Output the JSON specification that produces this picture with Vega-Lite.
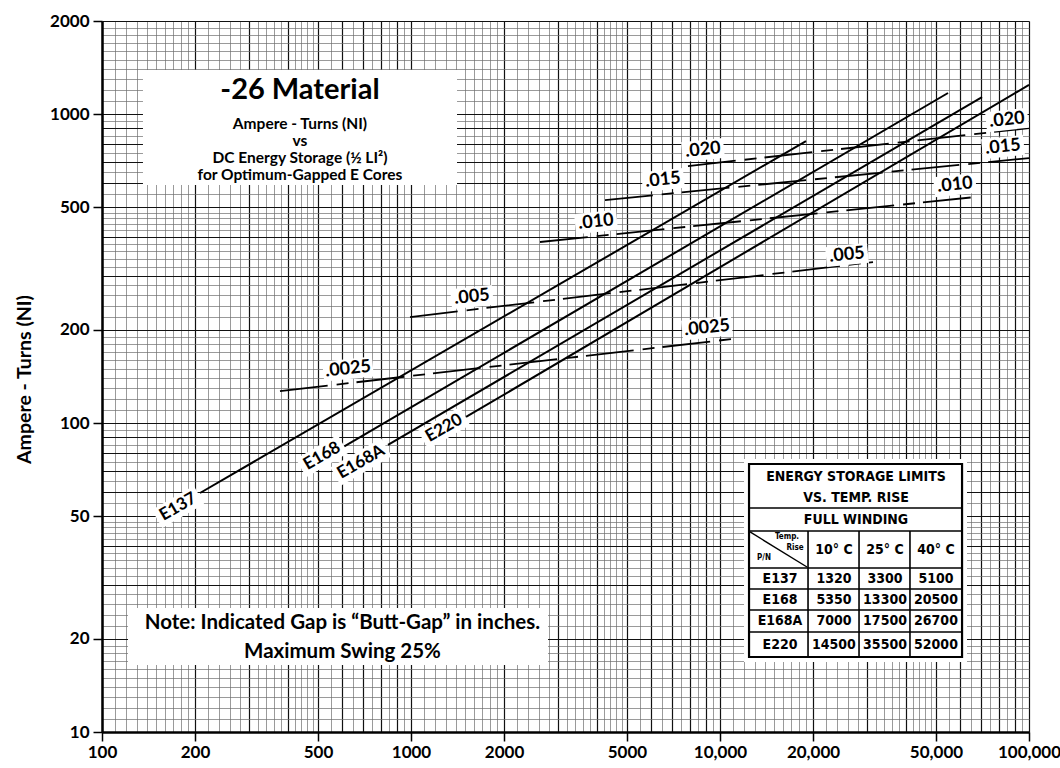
{
  "$schema": "https://vega.github.io/schema/vega-lite/v6.json",
  "width": 927,
  "height": 711,
  "autosize": {"type": "none"},
  "padding": {"left": 102, "top": 21, "right": 31, "bottom": 36},
  "background": "white",
  "config": {"view": {"stroke": null}, "font": "Lato"},
  "datasets": {
    "boxes": [
      {"name": "title", "x1": 135.7, "x2": 1409, "y1": 589, "y2": 1388},
      {"name": "note", "x1": 121.4, "x2": 2776, "y1": 16.48, "y2": 25.19},
      {"name": "table", "x1": 11960, "x2": 63000, "y1": 16.85, "y2": 76.45}
    ],
    "cores": [
      {"core": "E137", "e": 207.6, "ni": 59.36},
      {"core": "E137", "e": 18980, "ni": 817.5},
      {"core": "E168", "e": 602.6, "ni": 83.6},
      {"core": "E168", "e": 54690, "ni": 1169.5},
      {"core": "E168A", "e": 842.5, "ni": 84.9},
      {"core": "E168A", "e": 70460, "ni": 1135},
      {"core": "E220", "e": 1507, "ni": 104.6},
      {"core": "E220", "e": 100000, "ni": 1241.6}
    ],
    "gaps": [
      {"gap": ".0025", "e": 376.7, "ni": 126.9},
      {"gap": ".0025", "e": 10935, "ni": 187.0},
      {"gap": ".005", "e": 992.6, "ni": 220.3},
      {"gap": ".005", "e": 31270, "ni": 331.9},
      {"gap": ".010", "e": 2615, "ni": 385.3},
      {"gap": ".010", "e": 66870, "ni": 538.6},
      {"gap": ".015", "e": 4245, "ni": 526.8},
      {"gap": ".015", "e": 100000, "ni": 720.3},
      {"gap": ".020", "e": 7877, "ni": 678.6},
      {"gap": ".020", "e": 100000, "ni": 900.8}
    ],
    "gapLabels": [
      {"label": ".020", "e": 8810, "ni": 764.6},
      {"label": ".015", "e": 6539, "ni": 611.5},
      {"label": ".010", "e": 3970, "ni": 447.2},
      {"label": ".005", "e": 1575, "ni": 255.7},
      {"label": ".0025", "e": 625.4, "ni": 149.5},
      {"label": ".020", "e": 84880, "ni": 956.3},
      {"label": ".015", "e": 82390, "ni": 782},
      {"label": ".010", "e": 57610, "ni": 589.1},
      {"label": ".005", "e": 25760, "ni": 349.8},
      {"label": ".0025", "e": 9077, "ni": 203}
    ],
    "coreLabels": [
      {"label": "E137", "e": 176.2, "ni": 53.5},
      {"label": "E168", "e": 515.2, "ni": 78.2},
      {"label": "E168A", "e": 689, "ni": 74.8},
      {"label": "E220", "e": 1279, "ni": 96.3}
    ],
    "titleMain": [
      {"text": "-26 Material", "e": 437.2, "ni": 1196}
    ],
    "titleSub": [
      {"text": "Ampere - Turns (NI)", "e": 437.2, "ni": 928},
      {"text": "vs", "e": 437.2, "ni": 817.6},
      {"text": "DC Energy Storage (½ LI²)", "e": 437.2, "ni": 720.5},
      {"text": "for Optimum-Gapped E Cores", "e": 437.2, "ni": 634.8}
    ],
    "note": [
      {"text": "Note: Indicated Gap is “Butt-Gap” in inches.", "e": 600, "ni": 22.53},
      {"text": "Maximum Swing 25%", "e": 600, "ni": 18.15}
    ],
    "tableFrame": [
      {"x1": 12416, "x2": 60720, "y1": 17.49, "y2": 73.68}
    ],
    "tableH": [
      {"y": 53.08, "x1": 12416, "x2": 60720},
      {"y": 44.73, "x1": 12416, "x2": 60720},
      {"y": 33.94, "x1": 12416, "x2": 60720},
      {"y": 29.02, "x1": 12416, "x2": 60720},
      {"y": 24.82, "x1": 12416, "x2": 60720},
      {"y": 21.07, "x1": 12416, "x2": 60720}
    ],
    "tableV": [
      {"x": 19270, "y1": 17.49, "y2": 44.73},
      {"x": 28180, "y1": 17.49, "y2": 44.73},
      {"x": 41190, "y1": 17.49, "y2": 44.73}
    ],
    "tableDiag": [
      {"x1": 12510, "y1": 44.4, "x2": 19120, "y2": 34.2}
    ],
    "tableText": [
      {"text": "ENERGY STORAGE LIMITS", "e": 27550, "ni": 66.88},
      {"text": "VS. TEMP. RISE", "e": 27550, "ni": 57.2},
      {"text": "FULL WINDING", "e": 27550, "ni": 48.54},
      {"text": "10° C", "e": 23380, "ni": 38.81},
      {"text": "25° C", "e": 34200, "ni": 38.81},
      {"text": "40° C", "e": 50000, "ni": 38.81},
      {"text": "E137", "e": 15640, "ni": 31.27},
      {"text": "1320", "e": 23380, "ni": 31.27},
      {"text": "3300", "e": 34200, "ni": 31.27},
      {"text": "5100", "e": 50000, "ni": 31.27},
      {"text": "E168", "e": 15640, "ni": 26.74},
      {"text": "5350", "e": 23380, "ni": 26.74},
      {"text": "13300", "e": 34200, "ni": 26.74},
      {"text": "20500", "e": 50000, "ni": 26.74},
      {"text": "E168A", "e": 15640, "ni": 22.87},
      {"text": "7000", "e": 23380, "ni": 22.87},
      {"text": "17500", "e": 34200, "ni": 22.87},
      {"text": "26700", "e": 50000, "ni": 22.87},
      {"text": "E220", "e": 15640, "ni": 19.12},
      {"text": "14500", "e": 23380, "ni": 19.12},
      {"text": "35500", "e": 34200, "ni": 19.12},
      {"text": "52000", "e": 50000, "ni": 19.12}
    ],
    "tableSmall": [
      {"text": "Temp.", "e": 16470, "ni": 42.77},
      {"text": "Rise", "e": 17490, "ni": 39.39},
      {"text": "P/N", "e": 13880, "ni": 36.56}
    ]
  },
  "layer": [
    {
      "data": {"name": "boxes"},
      "mark": {"type": "rect", "color": "white"},
      "encoding": {
        "x": {"field": "x1", "type": "quantitative", "scale": {"type": "log", "domain": [100, 100000], "nice": false},
          "axis": {"orient": "bottom", "values": [110,120,130,140,150,160,170,180,190,220,240,260,280,320,340,360,380,420,440,460,480,550,650,750,850,950,1100,1200,1300,1400,1500,1600,1700,1800,1900,2200,2400,2600,2800,3200,3400,3600,3800,4200,4400,4600,4800,5500,6500,7500,8500,9500,11000,12000,13000,14000,15000,16000,17000,18000,19000,22000,24000,26000,28000,32000,34000,36000,38000,42000,44000,46000,48000,55000,65000,75000,85000,95000],
            "grid": true, "gridColor": "#6e6e6e", "gridWidth": 0.7, "labels": false, "ticks": false, "domain": false, "title": null}},
        "x2": {"field": "x2"},
        "y": {"field": "y1", "type": "quantitative", "scale": {"type": "log", "domain": [10, 2000], "nice": false},
          "axis": {"orient": "left", "values": [11,12,13,14,15,16,17,18,19,22,24,26,28,32,34,36,38,42,44,46,48,55,65,75,85,95,110,120,130,140,150,160,170,180,190,220,240,260,280,320,340,360,380,420,440,460,480,550,650,750,850,950,1100,1200,1300,1400,1500,1600,1700,1800,1900],
            "grid": true, "gridColor": "#6e6e6e", "gridWidth": 0.7, "labels": false, "ticks": false, "domain": false, "title": null}},
        "y2": {"field": "y2"}
      }
    },
    {
      "data": {"name": "cores"},
      "mark": {"type": "line", "color": "black", "strokeWidth": 2},
      "encoding": {
        "x": {"field": "e", "type": "quantitative", "scale": {"type": "log", "domain": [100, 100000], "nice": false},
          "axis": {"orient": "bottom", "values": [100,200,300,400,500,600,700,800,900,1000,2000,3000,4000,5000,6000,7000,8000,9000,10000,20000,30000,40000,50000,60000,70000,80000,90000,100000],
            "grid": true, "gridColor": "#111111", "gridWidth": 1.2, "labels": false, "ticks": false, "domain": false, "title": null}},
        "y": {"field": "ni", "type": "quantitative", "scale": {"type": "log", "domain": [10, 2000], "nice": false},
          "axis": {"orient": "left", "values": [10,20,30,40,50,60,70,80,90,100,200,300,400,500,600,700,800,900,1000,2000],
            "grid": true, "gridColor": "#111111", "gridWidth": 1.2, "labels": false, "ticks": false, "domain": false, "title": null}},
        "detail": {"field": "core"}
      }
    },
    {
      "data": {"name": "gaps"},
      "mark": {"type": "line", "color": "black", "strokeWidth": 1.8, "strokeDash": [48, 9, 12, 8]},
      "encoding": {
        "x": {"field": "e", "type": "quantitative", "scale": {"type": "log", "domain": [100, 100000], "nice": false},
          "axis": {"orient": "bottom", "values": [100,200,500,1000,2000,5000,10000,20000,50000,100000],
            "grid": false, "domain": true, "domainColor": "black", "domainWidth": 2.5,
            "ticks": true, "tickColor": "black", "tickWidth": 1.5, "tickSize": 9,
            "labelFont": "Lato", "labelFontSize": 17, "labelFontWeight": "bold", "labelColor": "black",
            "labelPadding": 3, "labelFlush": false, "labelOverlap": false,
            "labelExpr": "datum.value >= 10000 ? format(datum.value, ',') : format(datum.value, 'd')",
            "title": null}},
        "y": {"field": "ni", "type": "quantitative", "scale": {"type": "log", "domain": [10, 2000], "nice": false},
          "axis": {"orient": "left", "values": [10,20,50,100,200,500,1000,2000],
            "grid": false, "domain": true, "domainColor": "black", "domainWidth": 2.5,
            "ticks": true, "tickColor": "black", "tickWidth": 1.5, "tickSize": 9,
            "labelFont": "Lato", "labelFontSize": 17, "labelFontWeight": "bold", "labelColor": "black",
            "labelPadding": 4, "labelFlush": false, "labelOverlap": false,
            "labelExpr": "format(datum.value, 'd')",
            "title": "Ampere - Turns (NI)", "titleFont": "Lato", "titleFontSize": 19.5, "titleFontWeight": "bold",
            "titleColor": "black", "titleX": -78, "titleY": 358, "titleAngle": -90, "titleAlign": "center", "titleBaseline": "middle"}},
        "detail": {"field": "gap"}
      }
    },
    {
      "data": {"name": "gapLabels"},
      "transform": [{"filter": "length(datum.label) < 5"}],
      "mark": {"type": "point", "filled": true, "color": "white", "opacity": 1, "size": 400, "angle": -6,
        "shape": "M-2.1,-1L2.1,-1L2.1,1L-2.1,1Z"},
      "encoding": {
        "x": {"field": "e", "type": "quantitative", "scale": {"type": "log", "domain": [100, 100000], "nice": false}, "axis": null},
        "y": {"field": "ni", "type": "quantitative", "scale": {"type": "log", "domain": [10, 2000], "nice": false}, "axis": null}
      }
    },
    {
      "data": {"name": "gapLabels"},
      "transform": [{"filter": "length(datum.label) >= 5"}],
      "mark": {"type": "point", "filled": true, "color": "white", "opacity": 1, "size": 400, "angle": -6,
        "shape": "M-2.5,-1L2.5,-1L2.5,1L-2.5,1Z"},
      "encoding": {
        "x": {"field": "e", "type": "quantitative", "scale": {"type": "log", "domain": [100, 100000], "nice": false}, "axis": null},
        "y": {"field": "ni", "type": "quantitative", "scale": {"type": "log", "domain": [10, 2000], "nice": false}, "axis": null}
      }
    },
    {
      "data": {"name": "coreLabels"},
      "transform": [{"filter": "length(datum.label) < 5"}],
      "mark": {"type": "point", "filled": true, "color": "white", "opacity": 1, "size": 441, "angle": -30,
        "shape": "M-2.3,-1L2.3,-1L2.3,1L-2.3,1Z"},
      "encoding": {
        "x": {"field": "e", "type": "quantitative", "scale": {"type": "log", "domain": [100, 100000], "nice": false}, "axis": null},
        "y": {"field": "ni", "type": "quantitative", "scale": {"type": "log", "domain": [10, 2000], "nice": false}, "axis": null}
      }
    },
    {
      "data": {"name": "coreLabels"},
      "transform": [{"filter": "length(datum.label) >= 5"}],
      "mark": {"type": "point", "filled": true, "color": "white", "opacity": 1, "size": 441, "angle": -30,
        "shape": "M-2.8,-1L2.8,-1L2.8,1L-2.8,1Z"},
      "encoding": {
        "x": {"field": "e", "type": "quantitative", "scale": {"type": "log", "domain": [100, 100000], "nice": false}, "axis": null},
        "y": {"field": "ni", "type": "quantitative", "scale": {"type": "log", "domain": [10, 2000], "nice": false}, "axis": null}
      }
    },
    {
      "data": {"name": "gapLabels"},
      "mark": {"type": "text", "font": "Lato", "fontSize": 18, "fontWeight": "bold", "color": "black", "angle": -6, "align": "center", "baseline": "middle"},
      "encoding": {
        "x": {"field": "e", "type": "quantitative", "scale": {"type": "log", "domain": [100, 100000], "nice": false}, "axis": null},
        "y": {"field": "ni", "type": "quantitative", "scale": {"type": "log", "domain": [10, 2000], "nice": false}, "axis": null},
        "text": {"field": "label"}
      }
    },
    {
      "data": {"name": "coreLabels"},
      "mark": {"type": "text", "font": "Lato", "fontSize": 17, "fontWeight": "bold", "color": "black", "angle": -30, "align": "center", "baseline": "middle"},
      "encoding": {
        "x": {"field": "e", "type": "quantitative", "scale": {"type": "log", "domain": [100, 100000], "nice": false}, "axis": null},
        "y": {"field": "ni", "type": "quantitative", "scale": {"type": "log", "domain": [10, 2000], "nice": false}, "axis": null},
        "text": {"field": "label"}
      }
    },
    {
      "data": {"name": "titleMain"},
      "mark": {"type": "text", "font": "Lato", "fontSize": 29, "fontWeight": "bold", "color": "black", "align": "center", "baseline": "middle"},
      "encoding": {
        "x": {"field": "e", "type": "quantitative", "scale": {"type": "log", "domain": [100, 100000], "nice": false}, "axis": null},
        "y": {"field": "ni", "type": "quantitative", "scale": {"type": "log", "domain": [10, 2000], "nice": false}, "axis": null},
        "text": {"field": "text"}
      }
    },
    {
      "data": {"name": "titleSub"},
      "mark": {"type": "text", "font": "Lato", "fontSize": 15.5, "fontWeight": "bold", "color": "black", "align": "center", "baseline": "middle"},
      "encoding": {
        "x": {"field": "e", "type": "quantitative", "scale": {"type": "log", "domain": [100, 100000], "nice": false}, "axis": null},
        "y": {"field": "ni", "type": "quantitative", "scale": {"type": "log", "domain": [10, 2000], "nice": false}, "axis": null},
        "text": {"field": "text"}
      }
    },
    {
      "data": {"name": "note"},
      "mark": {"type": "text", "font": "Lato", "fontSize": 20.5, "fontWeight": "bold", "color": "black", "align": "center", "baseline": "middle"},
      "encoding": {
        "x": {"field": "e", "type": "quantitative", "scale": {"type": "log", "domain": [100, 100000], "nice": false}, "axis": null},
        "y": {"field": "ni", "type": "quantitative", "scale": {"type": "log", "domain": [10, 2000], "nice": false}, "axis": null},
        "text": {"field": "text"}
      }
    },
    {
      "data": {"name": "tableFrame"},
      "mark": {"type": "rect", "filled": false, "color": "black", "strokeWidth": 2.2},
      "encoding": {
        "x": {"field": "x1", "type": "quantitative", "scale": {"type": "log", "domain": [100, 100000], "nice": false}, "axis": null},
        "x2": {"field": "x2"},
        "y": {"field": "y1", "type": "quantitative", "scale": {"type": "log", "domain": [10, 2000], "nice": false}, "axis": null},
        "y2": {"field": "y2"}
      }
    },
    {
      "data": {"name": "tableH"},
      "mark": {"type": "rule", "color": "black", "strokeWidth": 1.6},
      "encoding": {
        "x": {"field": "x1", "type": "quantitative", "scale": {"type": "log", "domain": [100, 100000], "nice": false}, "axis": null},
        "x2": {"field": "x2"},
        "y": {"field": "y", "type": "quantitative", "scale": {"type": "log", "domain": [10, 2000], "nice": false}, "axis": null}
      }
    },
    {
      "data": {"name": "tableV"},
      "mark": {"type": "rule", "color": "black", "strokeWidth": 1.6},
      "encoding": {
        "x": {"field": "x", "type": "quantitative", "scale": {"type": "log", "domain": [100, 100000], "nice": false}, "axis": null},
        "y": {"field": "y1", "type": "quantitative", "scale": {"type": "log", "domain": [10, 2000], "nice": false}, "axis": null},
        "y2": {"field": "y2"}
      }
    },
    {
      "data": {"name": "tableDiag"},
      "mark": {"type": "rule", "color": "black", "strokeWidth": 1.4},
      "encoding": {
        "x": {"field": "x1", "type": "quantitative", "scale": {"type": "log", "domain": [100, 100000], "nice": false}, "axis": null},
        "x2": {"field": "x2"},
        "y": {"field": "y1", "type": "quantitative", "scale": {"type": "log", "domain": [10, 2000], "nice": false}, "axis": null},
        "y2": {"field": "y2"}
      }
    },
    {
      "data": {"name": "tableText"},
      "mark": {"type": "text", "font": "Liberation Sans Narrow, DejaVu Sans Condensed, Roboto, sans-serif", "fontSize": 14, "fontWeight": "bold", "color": "black", "align": "center", "baseline": "middle"},
      "encoding": {
        "x": {"field": "e", "type": "quantitative", "scale": {"type": "log", "domain": [100, 100000], "nice": false}, "axis": null},
        "y": {"field": "ni", "type": "quantitative", "scale": {"type": "log", "domain": [10, 2000], "nice": false}, "axis": null},
        "text": {"field": "text"}
      }
    },
    {
      "data": {"name": "tableSmall"},
      "mark": {"type": "text", "font": "Liberation Sans Narrow, DejaVu Sans Condensed, Roboto, sans-serif", "fontSize": 8, "fontWeight": "bold", "color": "black", "align": "center", "baseline": "middle"},
      "encoding": {
        "x": {"field": "e", "type": "quantitative", "scale": {"type": "log", "domain": [100, 100000], "nice": false}, "axis": null},
        "y": {"field": "ni", "type": "quantitative", "scale": {"type": "log", "domain": [10, 2000], "nice": false}, "axis": null},
        "text": {"field": "text"}
      }
    }
  ],
  "resolve": {"axis": {"x": "independent", "y": "independent"}}
}
